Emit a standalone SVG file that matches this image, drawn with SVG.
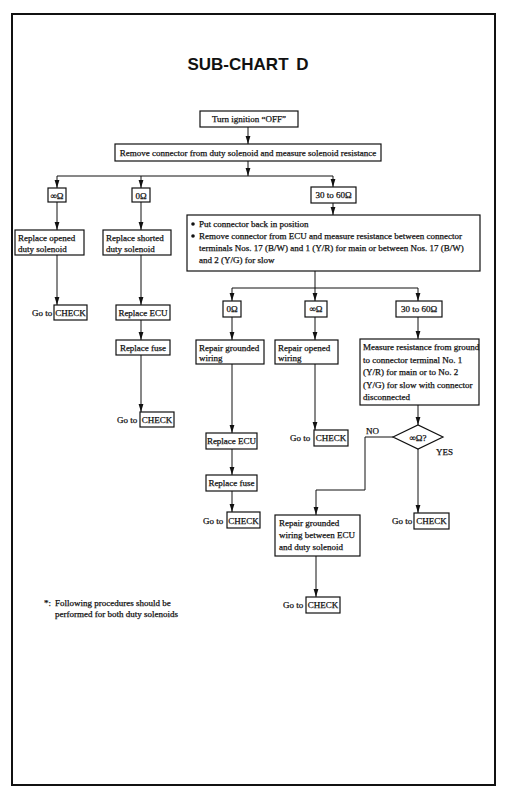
<svg xmlns="http://www.w3.org/2000/svg" width="508" height="799" viewBox="0 0 508 799">
<style>
.b{fill:#fff;stroke:#111;stroke-width:1.2}
.t{font-family:"Liberation Serif","Times New Roman",serif;font-size:9px;fill:#111;stroke:#111;stroke-width:0.25}
.c{text-anchor:middle}
.l{fill:none;stroke:#111;stroke-width:1}
.a{fill:none;stroke:#111;stroke-width:1;marker-end:url(#ah)}
</style>
<defs>
<marker id="ah" markerUnits="userSpaceOnUse" markerWidth="8" markerHeight="6" refX="8" refY="3" orient="auto">
<path d="M0,0.6 L8,3 L0,5.4 z" fill="#111"/>
</marker>
</defs>
<rect width="508" height="799" fill="#fff"/>
<rect x="12" y="14" width="483" height="771" fill="none" stroke="#111" stroke-width="2"/>
<text x="248" y="70" text-anchor="middle" font-family="'Liberation Sans',Arial,sans-serif" font-weight="bold" font-size="17" word-spacing="3" fill="#111">SUB-CHART D</text>

<g id="connectors">
<path class="a" d="M248,127 V144"/>
<path class="a" d="M248,161 V176"/>
<path class="l" d="M57,176 H333"/>
<path class="a" d="M57,176 V188"/>
<path class="a" d="M141,176 V188"/>
<path class="a" d="M333,176 V187"/>
<path class="a" d="M57,202 V230"/>
<path class="a" d="M141,202 V230"/>
<path class="a" d="M333,203 V215"/>
<path class="a" d="M57,255 V305"/>
<path class="a" d="M141,255 V305"/>
<path class="a" d="M141,320 V340"/>
<path class="a" d="M141,355 V412"/>
<path class="l" d="M315,271 V288"/>
<path class="l" d="M232,288 H418"/>
<path class="a" d="M232,288 V301"/>
<path class="a" d="M315,288 V301"/>
<path class="a" d="M418,288 V301"/>
<path class="a" d="M232,317 V340"/>
<path class="a" d="M315,317 V340"/>
<path class="a" d="M418,317 V339"/>
<path class="a" d="M232,364 V433"/>
<path class="a" d="M232,449 V475"/>
<path class="a" d="M232,491 V512"/>
<path class="a" d="M315,364 V430"/>
<path class="a" d="M418,405 V425"/>
<path class="a" d="M418,449 V513"/>
<path class="a" d="M393,437 H365 V490 H316 V515"/>
<path class="a" d="M316,556 V597"/>
</g>

<g id="n_turn"><rect class="b" x="200" y="111" width="98" height="16"/><text class="t c" x="249" y="122">Turn ignition “OFF”</text></g>
<g id="n_remove"><rect class="b" x="115" y="144" width="266" height="17"/><text class="t c" x="248" y="156">Remove connector from duty solenoid and measure solenoid resistance</text></g>
<g id="n_inf1"><rect class="b" x="48" y="188" width="18" height="14"/><text class="t c" x="57" y="198.5">∞Ω</text></g>
<g id="n_zero1"><rect class="b" x="132" y="188" width="18" height="14"/><text class="t c" x="141" y="198.5">0Ω</text></g>
<g id="n_3060a"><rect class="b" x="311" y="187" width="45" height="16"/><text class="t c" x="333.5" y="198">30 to 60Ω</text></g>
<g id="n_repopen"><rect class="b" x="15" y="230" width="69" height="25"/><text class="t" x="18" y="240.5">Replace opened</text><text class="t" x="18" y="251.5">duty solenoid</text></g>
<g id="n_repshort"><rect class="b" x="103" y="230" width="68" height="25"/><text class="t" x="106" y="240.5">Replace shorted</text><text class="t" x="106" y="251.5">duty solenoid</text></g>
<g id="n_big"><rect class="b" x="187" y="215" width="293" height="56"/>
<circle cx="193" cy="224" r="1.8" fill="#111"/><circle cx="193" cy="236" r="1.8" fill="#111"/>
<text class="t" x="199" y="227">Put connector back in position</text>
<text class="t" x="199" y="239">Remove connector from ECU and measure resistance between connector</text>
<text class="t" x="199" y="251">terminals Nos. 17 (B/W) and 1 (Y/R) for main or between Nos. 17 (B/W)</text>
<text class="t" x="199" y="263">and 2 (Y/G) for slow</text></g>
<g id="n_goto1"><text class="t" x="32" y="316">Go to</text><rect class="b" x="54" y="305" width="33" height="15"/><text class="t c" x="70.5" y="316">CHECK</text></g>
<g id="n_ecu1"><rect class="b" x="116" y="305" width="54" height="15"/><text class="t c" x="143" y="316">Replace ECU</text></g>
<g id="n_fuse1"><rect class="b" x="116" y="340" width="54" height="15"/><text class="t c" x="143" y="351">Replace fuse</text></g>
<g id="n_goto2"><text class="t" x="117" y="423">Go to</text><rect class="b" x="140" y="412" width="34" height="15"/><text class="t c" x="157" y="423">CHECK</text></g>
<g id="n_zero2"><rect class="b" x="223" y="301" width="18" height="16"/><text class="t c" x="232" y="312">0Ω</text></g>
<g id="n_inf2"><rect class="b" x="305" y="301" width="22" height="16"/><text class="t c" x="316" y="312">∞Ω</text></g>
<g id="n_3060b"><rect class="b" x="396" y="301" width="46" height="16"/><text class="t c" x="419" y="312">30 to 60Ω</text></g>
<g id="n_repgnd"><rect class="b" x="196" y="340" width="68" height="24"/><text class="t" x="199" y="350.5">Repair grounded</text><text class="t" x="199" y="361">wiring</text></g>
<g id="n_repopw"><rect class="b" x="275" y="340" width="63" height="24"/><text class="t" x="278" y="350.5">Repair opened</text><text class="t" x="278" y="361">wiring</text></g>
<g id="n_measure"><rect class="b" x="360" y="339" width="119" height="66"/>
<text class="t" x="363" y="350">Measure resistance from ground</text>
<text class="t" x="363" y="362.5">to connector terminal No. 1</text>
<text class="t" x="363" y="375">(Y/R) for main or to No. 2</text>
<text class="t" x="363" y="387.5">(Y/G) for slow with connector</text>
<text class="t" x="363" y="400">disconnected</text></g>
<g id="n_ecu2"><rect class="b" x="206" y="433" width="51" height="16"/><text class="t c" x="231.5" y="444">Replace ECU</text></g>
<g id="n_fuse2"><rect class="b" x="206" y="475" width="51" height="16"/><text class="t c" x="231.5" y="486">Replace fuse</text></g>
<g id="n_goto3"><text class="t" x="203" y="524">Go to</text><rect class="b" x="227" y="512" width="33" height="16"/><text class="t c" x="243.5" y="524">CHECK</text></g>
<g id="n_goto4"><text class="t" x="290" y="441">Go to</text><rect class="b" x="314" y="430" width="34" height="16"/><text class="t c" x="331" y="441">CHECK</text></g>
<g id="n_dec"><polygon class="b" points="393,437 418,425 443,437 418,449"/><text class="t c" x="418" y="440.5">∞Ω?</text>
<text class="t" x="436" y="455">YES</text><text class="t" x="366" y="434">NO</text></g>
<g id="n_goto5"><text class="t" x="392" y="524">Go to</text><rect class="b" x="414" y="513" width="35" height="16"/><text class="t c" x="431.5" y="524">CHECK</text></g>
<g id="n_repgnd2"><rect class="b" x="275" y="515" width="85" height="41"/>
<text class="t" x="279" y="526">Repair grounded</text>
<text class="t" x="279" y="538">wiring between ECU</text>
<text class="t" x="279" y="550">and duty solenoid</text></g>
<g id="n_goto6"><text class="t" x="283" y="608">Go to</text><rect class="b" x="306" y="597" width="34" height="16"/><text class="t c" x="323" y="608">CHECK</text></g>
<g id="n_note"><text class="t" x="44" y="606">*:</text><text class="t" x="55" y="606">Following procedures should be</text><text class="t" x="55" y="617">performed for both duty solenoids</text></g>
</svg>
